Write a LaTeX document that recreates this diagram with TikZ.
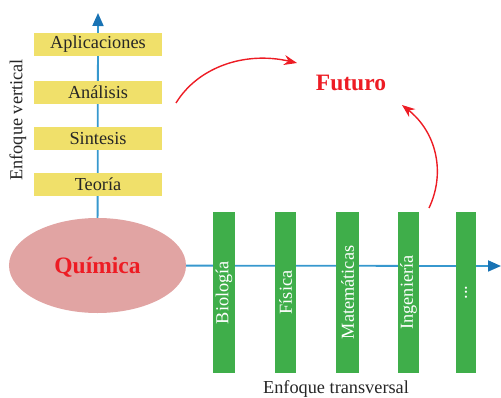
\documentclass[tikz,border=0pt]{standalone}
\usepackage{fontspec}
\setmainfont{Liberation Serif}
\usetikzlibrary{shapes.geometric,arrows.meta}
\pgfdeclarelayer{background}
\pgfsetlayers{background,main}
\definecolor{ybox}{RGB}{240,224,106}
\definecolor{gbar}{RGB}{63,174,74}
\definecolor{pinkq}{RGB}{225,164,163}
\definecolor{redq}{RGB}{237,28,36}
\definecolor{axisblue}{RGB}{55,152,206}
\definecolor{tipblue}{RGB}{25,115,180}
\tikzset{
  txt/.style={font=\fontsize{18.3bp}{22bp}\selectfont},
  ylevel/.style={txt, fill=ybox, minimum width=128bp, minimum height=23bp, inner sep=0pt, text=black!85},
  gfield/.style={txt, fill=gbar, rotate=90, minimum width=161bp, inner sep=0pt, text=white},
  axisline/.style={draw=axisblue, line width=1.8bp, -{Triangle[length=13bp,width=11bp,fill=tipblue,color=tipblue]}},
  redarrow/.style={draw=redq, line width=1.4bp, -{Stealth[length=13bp,width=10bp]}},
  bigred/.style={font=\fontsize{23.5bp}{28bp}\selectfont\bfseries, text=redq}
}
\begin{document}
\begin{tikzpicture}[x=1bp,y=1bp]
\useasboundingbox (0,0) rectangle (501,397);
\node[ylevel] (apl) at (98,352.5) {Aplicaciones};
\node[ylevel] (ana) at (98,304.5) {Análisis};
\node[ylevel] (sin) at (98,258.5) {Sintesis};
\node[ylevel] (teo) at (98,212.5) {Teoría};
\node[draw=none, fill=pinkq, ellipse, minimum width=177bp, minimum height=95bp, inner sep=0pt] (quim) at (97.5,131.5) {};
\node[bigred] (quimtxt) at (97.5,130) {Química};
\node[gfield, minimum height=22bp] (bio) at (224,104.5) {Biología};
\node[gfield, minimum height=21bp] (fis) at (285.5,104.5) {Física};
\node[gfield, minimum height=23bp] (mat) at (347.5,104.5) {Matemáticas};
\node[gfield, minimum height=21bp] (ing) at (408.5,104.5) {Ingeniería};
\node[gfield, minimum height=20bp] (etc) at (466,104.5) {...};
\node[bigred] (fut) at (351,314) {Futuro};
\node[txt, rotate=90, text=black!85] (ev) at (18,277) {Enfoque vertical};
\node[txt, text=black!85] (et) at (336,8.5) {Enfoque transversal};
\coordinate (vtip) at (98,384);
\coordinate (htip) at (501,131);
\coordinate (a1s) at (176,294);
\coordinate (a1e) at (297,334);
\coordinate (a2s) at (429,189);
\coordinate (a2e) at (402,292);
\begin{pgfonlayer}{background}
\draw[axisline] (quim.center) -- (vtip);
\draw[axisline] (quim.center) -- (htip);
\end{pgfonlayer}
\draw[redarrow] (a1s) .. controls (198,330) and (245,346) .. (a1e);
\draw[redarrow] (a2s) .. controls (446,225) and (436,265) .. (a2e);
\end{tikzpicture}
\end{document}
